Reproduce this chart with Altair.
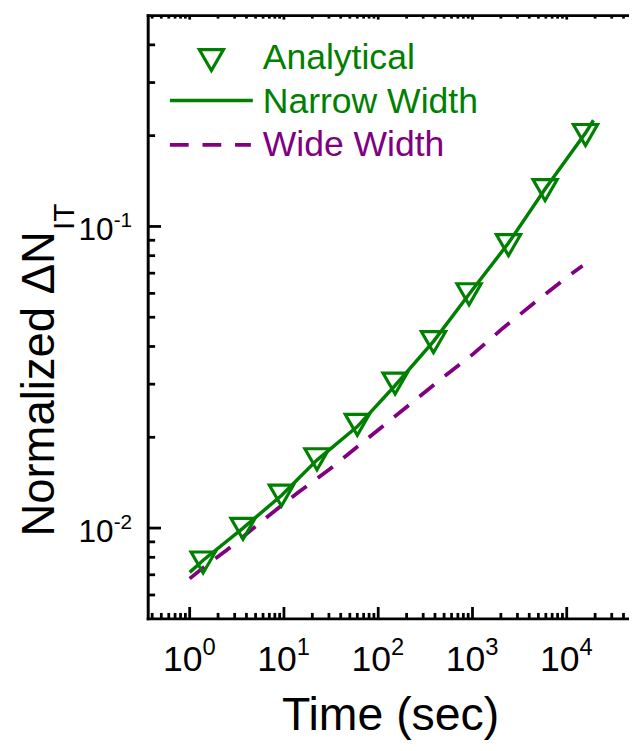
import altair as alt
import pandas as pd

# ---------------- data ----------------
analytical_time = [1.39, 3.68, 9.4, 22.4, 60, 151, 386, 919, 2410, 5890, 15800]
analytical_val = [0.00769, 0.00994, 0.01282, 0.01691, 0.0220, 0.03014, 0.04134,
                  0.0596, 0.0867, 0.132, 0.201]

narrow_time = [1, 1.39, 3.68, 9.4, 22.4, 60, 151, 386, 919, 2410, 5890, 15800, 19200]
narrow_val = [0.00713, 0.00782, 0.0100, 0.01282, 0.0168, 0.0217, 0.0297, 0.0416,
              0.0596, 0.0881, 0.133, 0.204, 0.225]

wide_time = [1, 1.4, 2.5, 6.4, 14, 30.7, 60, 124, 211, 468, 1012, 2084, 4624, 10000, 14700]
wide_val = [0.0068, 0.0074, 0.00847, 0.01079, 0.0131, 0.01569, 0.0186, 0.02233,
            0.02553, 0.03126, 0.03773, 0.0459, 0.0561, 0.0678, 0.0741]

x_major_ticks = [1, 10, 100, 1000, 10000]
x_tick_exponents = ["0", "1", "2", "3", "4"]
y_major_ticks = [0.01, 0.1]
y_tick_exponents = ["-2", "-1"]
minor_multipliers = [2, 3, 4, 5, 6, 7, 8, 9]

legend_labels = ["Analytical", "Narrow Width", "Wide Width"]
x_title = "Time (sec)"
y_title = "Normalized \u0394N"
y_title_sub = "IT"

X_DOMAIN = [0.363, 45750]
Y_DOMAIN = [0.005, 0.5]

# ---------------- style ----------------
W, H = 487, 611
GREEN = "#008000"
PURPLE = "#800080"
FONT = "Liberation Sans, Arial"

xs = alt.Scale(type="log", domain=X_DOMAIN, nice=False)
ys = alt.Scale(type="log", domain=Y_DOMAIN, nice=False)


def minor(dmin, dmax, decades):
    return [m * 10 ** d for d in decades for m in minor_multipliers
            if dmin < m * 10 ** d < dmax]


x_minor_ticks = minor(X_DOMAIN[0], X_DOMAIN[1], range(-1, 5))
y_minor_ticks = minor(Y_DOMAIN[0], Y_DOMAIN[1], range(-3, 0))

df_an = pd.DataFrame({"t": analytical_time, "v": analytical_val})
df_nw = pd.DataFrame({"t": narrow_time, "v": narrow_val})
df_wd = pd.DataFrame({"t": wide_time, "v": wide_val})
df_xM = pd.DataFrame({"t": x_major_ticks, "e": x_tick_exponents})
df_xm = pd.DataFrame({"t": x_minor_ticks})
df_yM = pd.DataFrame({"v": y_major_ticks, "e": y_tick_exponents})
df_ym = pd.DataFrame({"v": y_minor_ticks})
one = pd.DataFrame({"k": [0]})

X = lambda: alt.X("t:Q", scale=xs, axis=None)
Y = lambda: alt.Y("v:Q", scale=ys, axis=None)

wide = alt.Chart(df_wd).mark_line(color=PURPLE, strokeWidth=3.8, strokeDash=[19, 14]).encode(
    x=X(), y=Y())
narrow = alt.Chart(df_nw).mark_line(color=GREEN, strokeWidth=3.5).encode(x=X(), y=Y())
tri = alt.Chart(df_an).mark_point(shape="triangle-down", size=600, filled=False,
                                  color=GREEN, strokeWidth=3.2, opacity=1).encode(x=X(), y=Y())

# frame
fr = dict(color="black", strokeWidth=3, strokeCap="square")
frame = [
    alt.Chart(one).mark_rule(**fr).encode(x=alt.value(0), y=alt.value(0), y2=alt.value(H)),
    alt.Chart(one).mark_rule(**fr).encode(x=alt.value(0), x2=alt.value(W + 5), y=alt.value(H)),
    alt.Chart(one).mark_rule(**fr).encode(x=alt.value(0), x2=alt.value(W + 5), y=alt.value(0)),
]

# inward ticks
tk = dict(color="black", strokeWidth=2.8)
ticks = [
    alt.Chart(df_xM).mark_rule(**tk).encode(x=X(), y=alt.value(H), y2=alt.value(H - 12)),
    alt.Chart(df_xm).mark_rule(**tk).encode(x=X(), y=alt.value(H), y2=alt.value(H - 6)),
    alt.Chart(df_xM).mark_rule(**tk).encode(x=X(), y=alt.value(0), y2=alt.value(4)),
    alt.Chart(df_xm).mark_rule(**tk).encode(x=X(), y=alt.value(0), y2=alt.value(3)),
    alt.Chart(df_yM).mark_rule(**tk).encode(y=Y(), x=alt.value(0), x2=alt.value(13)),
    alt.Chart(df_ym).mark_rule(**tk).encode(y=Y(), x=alt.value(0), x2=alt.value(7)),
]

# tick labels (10 with superscript exponent)
labels = [
    alt.Chart(df_xM).mark_text(text="10", font=FONT, fontSize=36, align="right",
                               baseline="alphabetic", dx=13).encode(x=X(), y=alt.value(H + 53)),
    alt.Chart(df_xM).mark_text(font=FONT, fontSize=24, align="left",
                               baseline="alphabetic", dx=13).encode(
        x=X(), y=alt.value(H + 37), text="e:N"),
    alt.Chart(df_yM).mark_text(text="10", font=FONT, fontSize=32, align="right",
                               baseline="alphabetic", dy=14).encode(y=Y(), x=alt.value(-35)),
    alt.Chart(df_yM).mark_text(font=FONT, fontSize=21, align="left",
                               baseline="alphabetic", dy=1).encode(
        y=Y(), x=alt.value(-35), text="e:N"),
]

# axis titles
titles = [
    alt.Chart(one).mark_text(text=x_title, font=FONT, fontSize=47, align="center",
                             baseline="alphabetic").encode(x=alt.value(W / 2 + 2), y=alt.value(H + 113)),
    alt.Chart(one).mark_text(text=y_title, font=FONT, fontSize=46, align="center",
                             baseline="alphabetic", angle=270).encode(
        x=alt.value(-95), y=alt.value(373)),
    alt.Chart(one).mark_text(text=y_title_sub, font=FONT, fontSize=30, align="left",
                             baseline="alphabetic", angle=270).encode(
        x=alt.value(-75), y=alt.value(217)),
]

# legend
LF = 36
legend = [
    alt.Chart(one).mark_point(shape="triangle-down", size=600, filled=False, color=GREEN,
                              strokeWidth=3.2, opacity=1).encode(x=alt.value(64), y=alt.value(45)),
    alt.Chart(one).mark_text(text=legend_labels[0], font=FONT, fontSize=LF, align="left",
                             baseline="alphabetic", color=GREEN).encode(
        x=alt.value(116), y=alt.value(54)),
    alt.Chart(one).mark_rule(color=GREEN, strokeWidth=3.5).encode(
        x=alt.value(22), x2=alt.value(106), y=alt.value(86)),
    alt.Chart(one).mark_text(text=legend_labels[1], font=FONT, fontSize=LF, align="left",
                             baseline="alphabetic", color=GREEN).encode(
        x=alt.value(116), y=alt.value(99)),
    alt.Chart(one).mark_rule(color=PURPLE, strokeWidth=3.8, strokeDash=[19, 14]).encode(
        x=alt.value(22), x2=alt.value(104), y=alt.value(131)),
    alt.Chart(one).mark_text(text=legend_labels[2], font=FONT, fontSize=LF, align="left",
                             baseline="alphabetic", color=PURPLE).encode(
        x=alt.value(116), y=alt.value(142)),
]

chart = alt.layer(wide, narrow, tri, *frame, *ticks, *labels, *titles, *legend).properties(
    width=W, height=H,
    autosize=alt.AutoSizeParams(type="none"),
    padding={"left": 142, "top": 3, "right": 0, "bottom": 121},
    background="white",
).configure_view(strokeOpacity=0)

chart.save("out.html", embed_options={"renderer": "svg", "actions": False})
